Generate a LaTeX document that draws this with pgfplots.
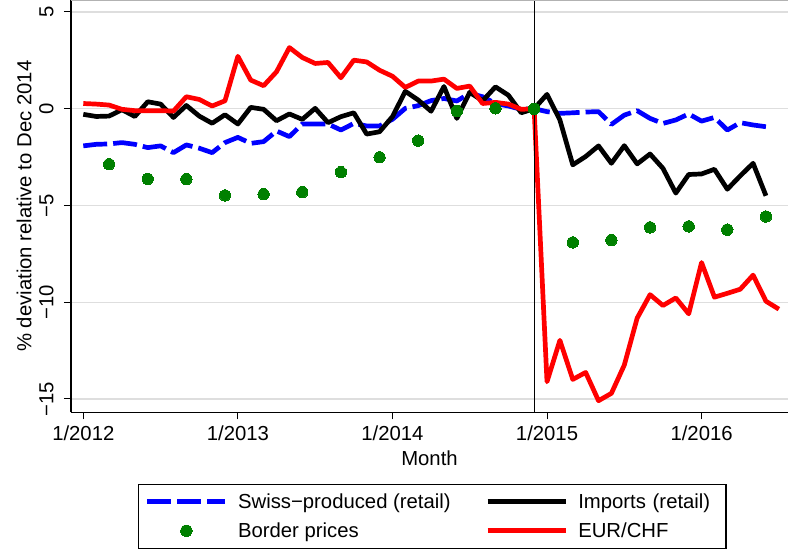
\documentclass[border=0pt]{standalone}
\usepackage{fontspec}
\setmainfont{Liberation Sans}
\usepackage{pgfplots}
\pgfplotsset{compat=1.18}
\definecolor{sgreen}{RGB}{0,128,0}
\definecolor{gridgray}{RGB}{222,222,222}
\newcommand{\cf}{\fontsize{20.3bp}{24bp}\selectfont}
\pgfplotsset{longlegend/.style={legend image code/.code={\draw[mark repeat=2,mark phase=2,##1] plot coordinates {(0bp,0bp) (39bp,0bp) (78bp,0bp)};}}}
\pgfplotstableread{
m blue black red
0 -1.92 -0.29 0.27
1 -1.84 -0.40 0.24
2 -1.82 -0.38 0.19
3 -1.75 -0.05 -0.03
4 -1.84 -0.40 -0.10
5 -2.01 0.36 -0.10
6 -1.92 0.24 -0.10
7 -2.27 -0.45 -0.12
8 -1.87 0.17 0.62
9 -2.04 -0.38 0.48
10 -2.27 -0.75 0.14
11 -1.75 -0.31 0.41
12 -1.48 -0.79 2.71
13 -1.79 0.07 1.48
14 -1.70 -0.03 1.19
15 -1.15 -0.62 1.91
16 -1.44 -0.27 3.16
17 -0.79 -0.55 2.65
18 -0.79 0.02 2.34
19 -0.79 -0.72 2.39
20 -1.10 -0.41 1.60
21 -0.76 -0.21 2.51
22 -0.89 -1.31 2.42
23 -0.89 -1.19 1.99
24 -0.55 -0.41 1.68
25 0.02 0.90 1.10
26 0.16 0.45 1.43
27 0.42 -0.13 1.43
28 0.53 1.15 1.53
29 0.40 -0.50 1.05
30 0.80 0.85 1.17
31 0.62 0.41 0.27
32 0.27 1.13 0.33
33 0.14 0.70 0.24
34 -0.03 -0.21 -0.03
35 0.00 0.00 0.00
36 -0.15 0.74 -14.11
37 -0.24 -0.58 -11.97
38 -0.21 -2.90 -13.99
39 -0.17 -2.47 -13.63
40 -0.15 -1.92 -15.09
41 -0.81 -2.82 -14.71
42 -0.33 -1.91 -13.25
43 -0.10 -2.85 -10.82
44 -0.50 -2.34 -9.61
45 -0.76 -3.08 -10.17
46 -0.58 -4.36 -9.78
47 -0.27 -3.40 -10.60
48 -0.64 -3.37 -7.95
49 -0.45 -3.13 -9.74
50 -1.10 -4.16 -9.54
51 -0.72 -3.47 -9.33
52 -0.84 -2.82 -8.60
53 -0.93 -4.50 -9.95
54 nan nan -10.36
}\maindata
\pgfplotstableread{
m border
2 -2.87
5 -3.63
8 -3.64
11 -4.48
14 -4.42
17 -4.31
20 -3.28
23 -2.51
26 -1.65
29 -0.12
32 0.02
35 0.00
38 -6.91
41 -6.79
44 -6.13
47 -6.08
50 -6.25
53 -5.57
}\borderdata
\begin{document}
\cf
\begin{tikzpicture}
\begin{axis}[
  at={(71bp,137.7bp)}, anchor=south west,
  scale only axis, width=717bp, height=412.3bp,
  xmin=-0.955, xmax=54.71, ymin=-15.69, ymax=5.62,
  axis x line*=bottom, axis y line*=left,
  axis line style={line width=1.2bp, -},
  xtick={0,12,24,36,48},
  xticklabels={1/2012,1/2013,1/2014,1/2015,1/2016},
  ytick={-15,-10,-5,0,5},
  yticklabels={−15,−10,−5,0,5},
  tick align=outside, major tick length=7bp,
  tick style={line width=1bp, black},
  xticklabel style={font=\cf, anchor=base, inner sep=0pt, yshift=-21.4bp},
  yticklabel style={font=\cf, xshift=-10.7bp, rotate=90, anchor=base, inner sep=0pt},
  ymajorgrids, grid style={gridgray, line width=1.2bp},
  xlabel={Month},
  xlabel style={font=\cf, at={(axis description cs:0.5,-0.1302)}, anchor=base, inner sep=0pt},
  ylabel={\% deviation relative to Dec 2014},
  ylabel style={font=\cf, at={(axis description cs:-0.0551,0.5)}, anchor=base, inner sep=0pt},
  legend columns=2,
  legend cell align=left,
  legend style={font=\cf, at={(axis description cs:0.0934,-0.1727)}, anchor=north west,
    draw=black, line width=1.2bp, inner xsep=6.45bp, inner ysep=5bp,
    nodes={inner sep=0pt, text height=19.8bp, text depth=5.4bp},
    row sep=3.8bp, column sep=10.35bp,
    /tikz/every even column/.append style={column sep=34.5bp},
    /tikz/column 4/.style={nodes={text width=141.2bp}}},
]
\addplot[blue, line width=4.7bp, dash pattern=on 24bp off 6bp, line join=round, longlegend]
  table[x=m, y=blue] {\maindata};
\addlegendentry{Swiss−produced (retail)}
\addplot[black, line width=4.7bp, line join=round, longlegend]
  table[x=m, y=black] {\maindata};
\addlegendentry{Imports (retail)}
\addplot[only marks, mark=*, mark size=5.7bp, mark options={fill=sgreen, draw=sgreen, line width=0pt}, draw=sgreen, longlegend]
  table[x=m, y=border] {\borderdata};
\addlegendentry{Border prices}
\addplot[red, line width=4.7bp, line join=round, longlegend]
  table[x=m, y=red] {\maindata};
\addlegendentry{EUR/CHF}
\addplot[black, line width=1bp, forget plot] coordinates {(35,-15.69) (35,5.62)};
\draw[gray!60, line width=1.5bp] (rel axis cs:0,1) -- (rel axis cs:1,1);
\end{axis}
\pgfresetboundingbox
\useasboundingbox (0,0) rectangle (788bp,550bp);
\end{tikzpicture}
\end{document}
